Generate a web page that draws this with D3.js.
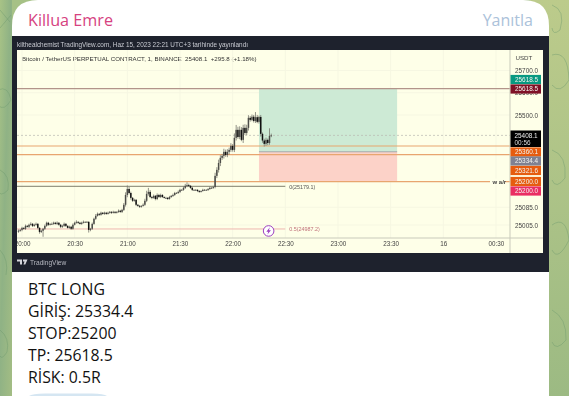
<!DOCTYPE html>
<html>
<head>
<meta charset="utf-8">
<script src="https://cdn.jsdelivr.net/npm/d3@7"></script>
<style>
  html, body { margin: 0; padding: 0; overflow: hidden; background: #a0bb85; }
  svg { display: block; }
  .tv { font-family: "Liberation Sans", Arial, sans-serif; white-space: pre; }
  .msg { font-family: "Open Sans", sans-serif; }
</style>
</head>
<body>
<div id="container"></div>
<script>
/* DATA */
const firstOpen = 24975;
// 1 minute closes, first candle is 19:58
const closeValues = [
  24979,24983,24992,24988,25001,24997,25006,25010,25001,25006,
  25010,24992,24974,24979,24988,25001,25015,25006,25010,25010,
  25015,25010,25015,25006,24997,25001,25010,25001,24992,24997,
  24988,25006,25015,25019,25015,25010,25015,25019,25019,25019,
  24983,24988,25010,25033,25046,25055,25051,25060,25055,25060,
  25055,25060,25064,25060,25064,25060,25064,25069,25064,25073,
  25096,25140,25167,25149,25127,25114,25118,25096,25091,25087,
  25091,25096,25114,25145,25154,25131,25127,25136,25122,25140,
  25131,25140,25131,25127,25127,25122,25131,25136,25140,25149,
  25149,25154,25163,25163,25172,25181,25185,25181,25172,25163,
  25163,25163,25158,25154,25158,25163,25163,25163,25167,25172,
  25172,25176,25226,25253,25284,25307,25316,25334,25320,25334,
  25343,25361,25343,25397,25433,25401,25433,25388,25442,25419,
  25442,25487,25478,25492,25473,25490,25469,25491,25415,25385,
  25370,25388,25374,25406,25408.1
];
// how far the wick sticks out of the body, in price
const wickUp = [
  6,4,5,3,6,4,5,7,4,5,
  6,4,3,5,4,6,5,4,3,6,
  5,4,6,3,4,5,6,4,3,5,
  4,6,5,7,3,4,5,6,3,4,
  3,4,6,5,8,6,4,5,3,5,
  4,5,4,3,5,4,3,6,4,5,
  8,12,16,9,6,4,5,4,3,4,
  3,6,9,14,18,8,5,6,4,7,
  5,6,4,3,5,4,5,4,6,5,
  4,6,5,4,7,9,12,6,4,5,
  3,4,3,4,3,5,4,3,4,6,
  4,5,14,12,15,12,9,14,10,12,
  10,12,8,20,22,14,16,12,14,16,
  14,12,8,10,8,23,10,6,9,6,
  8,10,6,34,8
];
const wickDown = [
  5,4,6,4,5,3,6,4,5,4,
  4,6,8,5,27,5,4,5,3,4,
  4,3,5,4,6,5,4,5,3,4,
  5,4,3,4,5,3,4,3,4,3,
  12,6,5,4,5,3,5,4,3,4,
  4,3,4,5,3,4,3,4,4,5,
  5,8,10,6,8,5,4,6,4,5,
  4,3,5,6,8,5,6,4,6,5,
  4,5,4,3,5,4,3,4,5,4,
  3,4,5,3,4,5,6,5,4,5,
  4,3,5,4,3,3,4,3,5,4,
  3,4,6,10,12,14,9,12,8,10,
  12,9,8,10,12,8,10,6,14,9,
  10,12,8,6,7,9,6,8,12,10,
  12,9,10,8,6
];

const timeTicks = [0, 30, 60, 90, 120, 150, 180, 210, 240, 270]; // minutes after 20:00
const timeLabels = ["20:00","20:30","21:00","21:30","22:00","22:30","23:00","23:30","16","00:30"];
const priceTicks = [25700, 25600, 25500, 25085, 25005];

const lastPrice = 25408.1;
const takeProfit = 25618.5;
const entry = 25334.4;
const stop = 25200;
const orangeLevels = [25360.1, 25321.6, 25200];
const positionFrom = 135, positionTo = 213.7; // minutes after 20:00
const fibZero = 25179.1, fibHalf = 24987.2;
const fibEnd = 150;

const priceTags = [
  {label: "25618.5", color: "#089981", slot: 79.5},
  {label: "25618.5", color: "#7f1127", slot: 89},
  {label: "25360.1", color: "#e65c0f", slot: 152},
  {label: "25334.4", color: "#7f8192", slot: 161},
  {label: "25321.6", color: "#e65c0f", slot: 170.5},
  {label: "25200.0", color: "#e65c0f", slot: 181.5},
  {label: "25200.0", color: "#ea2e63", slot: 191}
];

const messageLines = ["BTC LONG", "GİRİŞ: 25334.4", "STOP:25200", "TP: 25618.5", "RİSK: 0.5R"];

/* LAYOUT */
const width = 569, height = 396;
const panel = {left: 17, right: 543, top: 50, bottom: 253, axisX: 510, axisY: 238};

const xScale = d3.scaleLinear().domain([-2.85, 278]).range([panel.left, panel.axisX]);
const yScale = d3.scaleLinear().domain([25700, 25005]).range([70.5, 225]);

const svg = d3.select("#container").append("svg")
  .attr("width", width)
  .attr("height", height);

const defs = svg.append("defs");
const bgGrad = defs.append("linearGradient").attr("id", "bg")
  .attr("x1", 0).attr("y1", 0).attr("x2", 1).attr("y2", 1);
bgGrad.append("stop").attr("offset", 0).attr("stop-color", "#a8c386");
bgGrad.append("stop").attr("offset", 0.45).attr("stop-color", "#8fb285");
bgGrad.append("stop").attr("offset", 1).attr("stop-color", "#a3bd84");
const bgRight = defs.append("linearGradient").attr("id", "bgRight")
  .attr("x1", 0).attr("y1", 0).attr("x2", 0).attr("y2", 1);
bgRight.append("stop").attr("offset", 0).attr("stop-color", "#bccb8b");
bgRight.append("stop").attr("offset", 1).attr("stop-color", "#9cba83");
defs.append("clipPath").attr("id", "plotClip").append("rect")
  .attr("x", panel.left).attr("y", panel.top)
  .attr("width", panel.axisX - panel.left).attr("height", panel.bottom - panel.top);

/* BACKGROUND */
svg.append("rect").attr("width", 12).attr("height", height).attr("fill", "url(#bg)");
svg.append("rect").attr("x", 12).attr("width", 40).attr("height", 30).attr("fill", "#a6c186");
svg.append("rect").attr("x", 530).attr("width", 39).attr("height", height).attr("fill", "url(#bgRight)");

// wallpaper doodles
const doodles = [
  "M0 10 L10 22 M0 28 L11 15", "M-2 90 Q8 85 11 100 Q4 112 -2 105", "M0 170 Q10 175 8 190 Q0 198 -2 190",
  "M0 250 Q9 260 6 275", "M0 330 Q10 338 7 352 Q2 360 0 356", "M552 5 Q566 10 560 30 Q553 36 552 28",
  "M552 55 Q568 50 569 80 Q560 95 552 85", "M552 150 Q567 155 565 178 Q556 190 552 180",
  "M552 225 Q566 215 569 240 Q558 262 552 250", "M552 310 Q567 318 566 340 Q556 352 552 342"
];
svg.append("g").selectAll("path").data(doodles).join("path")
  .attr("d", d => d)
  .attr("fill", "none")
  .attr("stroke", "#6f9a6e")
  .attr("stroke-opacity", 0.55)
  .attr("stroke-width", 0.8);

/* MESSAGE CARD */
svg.append("path")
  .attr("d", "M12 396 V26 Q12 0 38 0 H523 Q549 0 549 26 V396 Z")
  .attr("fill", "#fff");

svg.append("text").attr("class", "msg")
  .attr("x", 28).attr("y", 25.5)
  .attr("font-size", 16.2).attr("font-weight", 500)
  .attr("fill", "#d6427f")
  .text("Killua Emre");
svg.append("text").attr("class", "msg")
  .attr("x", 533).attr("y", 25.5)
  .attr("text-anchor", "end")
  .attr("font-size", 16)
  .attr("fill", "#abc2da")
  .text("Yanıtla");

svg.append("g").selectAll("text").data(messageLines).join("text")
  .attr("class", "msg")
  .attr("x", 28)
  .attr("y", (d, i) => 295 + i * 21.9)
  .attr("font-size", 15.8)
  .attr("fill", "#111")
  .text(d => d);

// top of the next picture in the message
svg.append("path")
  .attr("d", "M29 396 Q32 393.5 45 393.5 H92 Q104 393.5 107 396 Z")
  .attr("fill", "#d5e6f2");

/* CHART IMAGE */
const chart = svg.append("g").style("filter", "blur(0.3px)");

chart.append("rect")
  .attr("x", 12).attr("y", 36).attr("width", 537).attr("height", 236)
  .attr("fill", "#1e222d");
chart.append("rect")
  .attr("x", panel.left).attr("y", panel.top)
  .attr("width", panel.right - panel.left).attr("height", panel.bottom - panel.top)
  .attr("fill", "#feffe8");

chart.append("text").attr("class", "tv")
  .attr("x", 17).attr("y", 46.5)
  .attr("font-size", 6.4).attr("fill", "#c9cbd2")
  .text("kilthealchemist TradingView.com, Haz 15, 2023 22:21 UTC+3 tarihinde yayınlandı");

chart.append("text").attr("class", "tv")
  .attr("x", 22).attr("y", 60.5)
  .attr("font-size", 6.15).attr("fill", "#333")
  .text("Bitcoin / TetherUS PERPETUAL CONTRACT, 1, BINANCE  25408.1  +295.8 (+1.18%)");

const plot = chart.append("g").attr("clip-path", "url(#plotClip)");

// faint grid
plot.append("g").selectAll("line").data(timeTicks).join("line")
  .attr("x1", d => xScale(d)).attr("x2", d => xScale(d))
  .attr("y1", panel.top).attr("y2", panel.axisY)
  .attr("stroke", "#f6f7e2");
plot.append("g").selectAll("line").data(priceTicks).join("line")
  .attr("x1", panel.left).attr("x2", panel.axisX)
  .attr("y1", d => yScale(d)).attr("y2", d => yScale(d))
  .attr("stroke", "#f6f7e2");

// long position box
plot.append("rect")
  .attr("x", xScale(positionFrom)).attr("width", xScale(positionTo) - xScale(positionFrom))
  .attr("y", yScale(takeProfit)).attr("height", yScale(entry) - yScale(takeProfit))
  .attr("fill", "#cdead5");
plot.append("rect")
  .attr("x", xScale(positionFrom)).attr("width", xScale(positionTo) - xScale(positionFrom))
  .attr("y", yScale(entry)).attr("height", yScale(stop) - yScale(entry))
  .attr("fill", "#fcd2c8");
plot.append("line")
  .attr("x1", xScale(positionFrom)).attr("x2", xScale(positionTo))
  .attr("y1", yScale(entry)).attr("y2", yScale(entry))
  .attr("stroke", "#8f9aa0").attr("stroke-width", 0.8);

// levels
plot.append("line")
  .attr("x1", panel.left).attr("x2", panel.axisX)
  .attr("y1", yScale(takeProfit)).attr("y2", yScale(takeProfit))
  .attr("stroke", "#b2948a").attr("stroke-width", 1.3);
plot.append("g").selectAll("line").data(orangeLevels).join("line")
  .attr("x1", panel.left).attr("x2", panel.axisX)
  .attr("y1", d => yScale(d)).attr("y2", d => yScale(d))
  .attr("stroke", "#e8a56f").attr("stroke-width", 1.1);
plot.append("line")
  .attr("x1", panel.left).attr("x2", panel.axisX)
  .attr("y1", yScale(lastPrice)).attr("y2", yScale(lastPrice))
  .attr("stroke", "#b8b8b0").attr("stroke-width", 0.7).attr("stroke-dasharray", "2 2");

// fib lines
plot.append("line")
  .attr("x1", panel.left).attr("x2", xScale(fibEnd))
  .attr("y1", yScale(fibZero)).attr("y2", yScale(fibZero))
  .attr("stroke", "#6f6f5e").attr("stroke-width", 0.9);
plot.append("line")
  .attr("x1", panel.left).attr("x2", xScale(fibEnd))
  .attr("y1", yScale(fibHalf)).attr("y2", yScale(fibHalf))
  .attr("stroke", "#eeb7b0").attr("stroke-width", 1);
chart.append("text").attr("class", "tv")
  .attr("x", xScale(fibEnd) + 4).attr("y", yScale(fibZero) + 2.3)
  .attr("font-size", 5.4).attr("fill", "#555")
  .text(`0(${fibZero})`);
chart.append("text").attr("class", "tv")
  .attr("x", xScale(fibEnd) + 4).attr("y", yScale(fibHalf) + 2.3)
  .attr("font-size", 5.4).attr("fill", "#c0707a")
  .text(`0.5(${fibHalf})`);

// candles
const candles = closeValues.map((close, i) => {
  const open = i === 0 ? firstOpen : closeValues[i - 1];
  return {
    minute: i - 2,
    open,
    close,
    high: Math.max(open, close) + wickUp[i],
    low: Math.min(open, close) - wickDown[i]
  };
});

const candle = plot.append("g").selectAll("g").data(candles).join("g");
candle.append("line")
  .attr("x1", d => xScale(d.minute)).attr("x2", d => xScale(d.minute))
  .attr("y1", d => yScale(d.high)).attr("y2", d => yScale(d.low))
  .attr("stroke", "#77776f").attr("stroke-width", 0.8);
candle.append("rect")
  .attr("x", d => xScale(d.minute) - 0.75)
  .attr("width", 1.5)
  .attr("y", d => yScale(Math.max(d.open, d.close)))
  .attr("height", d => Math.max(0.8, Math.abs(yScale(d.open) - yScale(d.close))))
  .attr("fill", d => d.close >= d.open ? "#4c4c48" : "#111");

// lightning mark
const bolt = chart.append("g")
  .attr("transform", `translate(${xScale(140.5)},${yScale(fibHalf) + 2})`);
bolt.append("circle").attr("r", 5.3)
  .attr("fill", "#fff").attr("stroke", "#9c3fc0").attr("stroke-width", 1);
bolt.append("path").attr("d", "M1.2 -3.6 L-2.3 0.7 H-0.3 L-1.2 3.6 L2.3 -0.7 H0.3 Z").attr("fill", "#9c3fc0");

// "w a/r" label on the stop line
chart.append("rect")
  .attr("x", 490).attr("y", yScale(stop) - 3)
  .attr("width", 15).attr("height", 6).attr("fill", "#feffe8");
chart.append("text").attr("class", "tv")
  .attr("x", 492.5).attr("y", yScale(stop) + 2.1)
  .attr("font-size", 6).attr("font-weight", "bold").attr("fill", "#444")
  .text("w a/r");

/* AXES */
chart.append("line")
  .attr("x1", panel.left).attr("x2", panel.right)
  .attr("y1", panel.axisY).attr("y2", panel.axisY)
  .attr("stroke", "#c9cabb");
chart.append("line")
  .attr("x1", panel.axisX).attr("x2", panel.axisX)
  .attr("y1", panel.top).attr("y2", panel.bottom)
  .attr("stroke", "#c9cabb");

const xAxis = d3.axisBottom(xScale)
  .tickValues(timeTicks)
  .tickFormat((d, i) => timeLabels[i])
  .tickSize(0)
  .tickPadding(4);
chart.append("g")
  .attr("clip-path", "url(#xClip)")
  .attr("transform", `translate(0,${panel.axisY})`)
  .call(xAxis)
  .call(g => g.select(".domain").remove())
  .call(g => g.selectAll("text").attr("class", "tv").attr("font-size", 6.3).attr("fill", "#444"));
defs.append("clipPath").attr("id", "xClip").append("rect")
  .attr("x", panel.left).attr("y", 0).attr("width", panel.axisX - panel.left).attr("height", 20);

const yAxis = d3.axisRight(yScale)
  .tickValues(priceTicks)
  .tickFormat(d3.format(".1f"))
  .tickSize(0)
  .tickPadding(5);
chart.append("g")
  .attr("transform", `translate(${panel.axisX},0)`)
  .call(yAxis)
  .call(g => g.select(".domain").remove())
  .call(g => g.selectAll("text").attr("class", "tv").attr("font-size", 6.4).attr("fill", "#444"));

chart.append("text").attr("class", "tv")
  .attr("x", 515.5).attr("y", 59.5)
  .attr("font-size", 6.2).attr("fill", "#444")
  .text("USDT");

// price tags on the axis, stacked so they do not overlap
const tag = chart.append("g").selectAll("g").data(priceTags).join("g")
  .attr("transform", d => `translate(${panel.axisX + 0.5},${d.slot})`);
tag.append("rect")
  .attr("y", -4.6).attr("width", 30.5).attr("height", 9.2)
  .attr("fill", d => d.color);
tag.append("text").attr("class", "tv")
  .attr("x", 4.5).attr("y", 2.3)
  .attr("font-size", 6.4).attr("fill", "#f3f3ee")
  .text(d => d.label);

// last price tag with the countdown
chart.append("rect")
  .attr("x", panel.axisX + 0.5).attr("y", 130.5)
  .attr("width", 30.5).attr("height", 16.5).attr("fill", "#000");
chart.append("text").attr("class", "tv")
  .attr("x", panel.axisX + 4.5).attr("y", 137.5)
  .attr("font-size", 6.4).attr("fill", "#eee")
  .text(lastPrice.toFixed(1));
chart.append("text").attr("class", "tv")
  .attr("x", panel.axisX + 4.5).attr("y", 145)
  .attr("font-size", 6.4).attr("fill", "#ddd")
  .text("00:56");

/* FOOTER */
chart.append("path")
  .attr("d", "M17 259.5 H22 V264.5 H20 V261.5 H17 Z M23 259.5 H27.5 L25.3 264.5 H23.5 L24.5 261.5 H23 Z")
  .attr("fill", "#d5d6db");
chart.append("text").attr("class", "tv")
  .attr("x", 30).attr("y", 264.5)
  .attr("font-size", 6.6).attr("fill", "#b6b8c0")
  .text("TradingView");
</script>
</body>
</html>
